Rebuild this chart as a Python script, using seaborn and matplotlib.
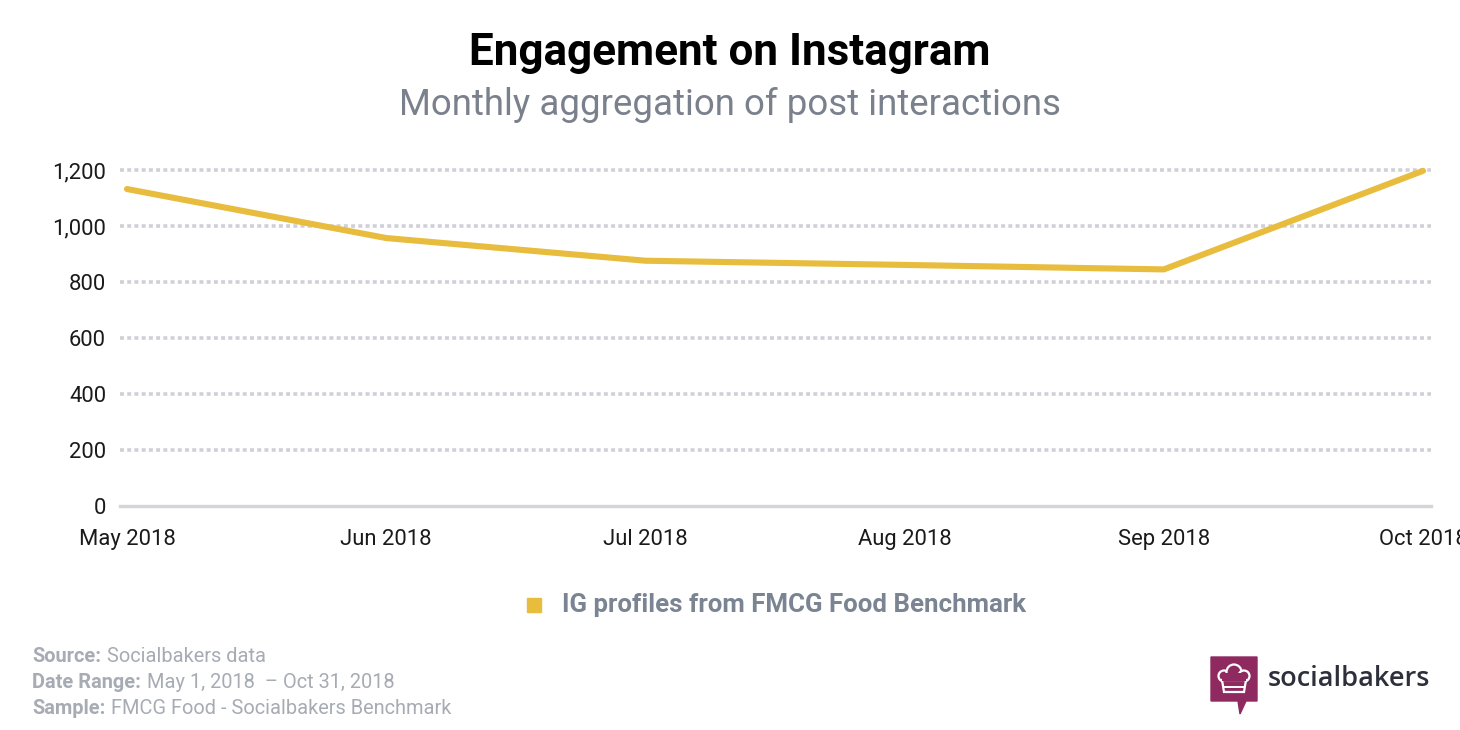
import matplotlib
matplotlib.use("Agg")
import matplotlib.pyplot as plt
import matplotlib.patches as mpatches
import seaborn as sns
import pandas as pd
import numpy as np

# Data
months = ["May 2018", "Jun 2018", "Jul 2018", "Aug 2018", "Sep 2018", "Oct 2018"]
interactions = [1132, 957, 876, 861, 845, 1197]
y_ticks = [0, 200, 400, 600, 800, 1000, 1200]
series_name = "IG profiles from FMCG Food Benchmark"

df = pd.DataFrame({"month": np.arange(len(months)), "value": interactions})

sns.set_style("white")
plt.rcParams["font.family"] = ["Roboto", "DejaVu Sans"]

W, H = 1460, 730
fig = plt.figure(figsize=(14.6, 7.3), dpi=100)
ax = fig.add_axes([120 / W, 1 - 506 / H, (1431 - 120) / W, (506 - 170) / H])

line_col = "#e8bc3c"
sns.lineplot(data=df, x="month", y="value", ax=ax, color=line_col,
             linewidth=4.4, solid_capstyle="round", solid_joinstyle="round",
             legend=False, zorder=3, clip_on=False)

ax.set_ylim(0, 1200)
ax.set_xlim(-7 / 259.2, 5 + 8 / 259.2)
ax.set_yticks(y_ticks)
ax.set_yticklabels([f"{v:,}" for v in y_ticks])
ax.set_xticks(np.arange(len(months)))
ax.set_xticklabels(months)
ax.set_xlabel("")
ax.set_ylabel("")

# dotted horizontal gridlines
for v in y_ticks[1:]:
    ax.axhline(v, color="#d0d0d8", lw=2.6, linestyle=(0, (1.1, 0.9)), zorder=1,
               clip_on=False)

for s in ["top", "right", "left"]:
    ax.spines[s].set_visible(False)
ax.spines["bottom"].set_color("#d3d5da")
ax.spines["bottom"].set_linewidth(2.4)
ax.tick_params(axis="both", length=0, labelsize=15.8, colors="#1a1a1a")
ax.tick_params(axis="x", pad=16.5)
ax.tick_params(axis="y", pad=10)

# titles
fig.text(0.5, 1 - 53 / H, "Engagement on Instagram", ha="center", va="center",
         fontsize=31.7, fontweight="bold", color="#000000")
fig.text(0.5, 1 - 105 / H, "Monthly aggregation of post interactions", ha="center",
         va="center", fontsize=26.4, color="#7a818d")

# legend
fig.patches.append(mpatches.Rectangle((527 / W, 1 - 612 / H), 14 / W, 14 / H,
                                      transform=fig.transFigure, color=line_col))
fig.text(562 / W, 1 - 605 / H, series_name, ha="left", va="center",
         fontsize=18.6, fontweight="bold", color="#7b8492")

# footer
foot_col = "#a7acb4"
footer = [("Source:", "Socialbakers data", 657),
          ("Date Range:", "May 1, 2018  \u2013 Oct 31, 2018", 683),
          ("Sample:", "FMCG Food - Socialbakers Benchmark", 708)]
renderer = fig.canvas.get_renderer()
for label, txt, yy in footer:
    t = fig.text(32 / W, 1 - yy / H, label, ha="left", va="center", fontsize=14.4,
                 fontweight="bold", color=foot_col)
    bb = t.get_window_extent(renderer=renderer)
    fig.text((bb.x1 + 6) / W, 1 - yy / H, txt, ha="left", va="center",
             fontsize=14.4, color=foot_col)

# logo
lax = fig.add_axes([1205 / W, 1 - 720 / H, 60 / W, 68 / H])
lax.set_xlim(1205, 1265)
lax.set_ylim(720, 652)
lax.axis("off")
mag = "#8f2a60"
lax.add_patch(mpatches.Polygon([(1211, 657), (1257, 657), (1257, 701), (1246, 701),
                                (1240, 714), (1238, 701), (1211, 701)],
                               closed=True, color=mag))
# chef hat outline
for cx, cy, r in [(1224, 676, 5.5), (1234, 672, 7.5), (1244, 676, 5.5)]:
    lax.add_patch(mpatches.Circle((cx, cy), r, fc=mag, ec="white", lw=1.6))
lax.add_patch(mpatches.Rectangle((1222, 673), 24, 10, fc=mag, ec="none"))
lax.add_patch(mpatches.Polygon([(1222, 680), (1246, 680), (1244, 692), (1224, 692)],
                               closed=True, fc=mag, ec="white", lw=1.6))
lax.add_patch(mpatches.Rectangle((1222, 678), 24, 2.5, fc=mag, ec="none"))
lax.plot([1224, 1244], [687, 687], color="white", lw=1.4)

fig.text(1268 / W, 1 - 679 / H, "socialbakers", ha="left", va="center",
         fontsize=19.5, color="#2d303b", family=["Open Sans", "DejaVu Sans"],
         fontweight="semibold")

fig.savefig("out.png", dpi=100)
